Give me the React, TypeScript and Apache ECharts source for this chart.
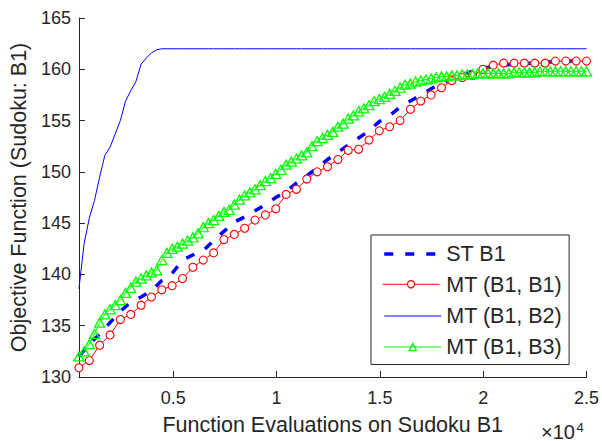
import React, { useEffect, useRef } from 'react';
import * as echarts from 'echarts';

// Function evaluations (x) — coarse sampling (ST B1, MT (B1, B1))
const evalsCoarse = [
  434, 935, 1437, 1938, 2439, 2941, 3442, 3943, 4445, 4946,
  5448, 5949, 6450, 6952, 7453, 7954, 8456, 8957, 9458, 9960,
  10461, 10962, 11464, 11965, 12466, 12968, 13469, 13970, 14472, 14973,
  15475, 15976, 16477, 16979, 17480, 17981, 18483, 18984, 19485, 19987,
  20488, 20989, 21491, 21992, 22493, 22995, 23496, 23997, 24499, 25000,
];

// Function evaluations (x) — fine sampling (MT (B1, B2), MT (B1, B3))
const evalsFine = [
  434, 685, 935, 1186, 1437, 1687, 1938, 2189, 2439, 2690,
  2941, 3191, 3442, 3693, 3943, 4194, 4445, 4695, 4946, 5197,
  5447, 5698, 5949, 6199, 6450, 6701, 6952, 7202, 7453, 7704,
  7954, 8205, 8456, 8706, 8957, 9208, 9458, 9709, 9960, 10210,
  10461, 10712, 10962, 11213, 11464, 11714, 11965, 12216, 12466, 12717,
  12968, 13218, 13469, 13720, 13970, 14221, 14472, 14722, 14973, 15224,
  15474, 15725, 15976, 16226, 16477, 16728, 16978, 17229, 17480, 17731,
  17981, 18232, 18483, 18733, 18984, 19235, 19485, 19736, 19987, 20237,
  20488, 20739, 20989, 21240, 21491, 21741, 21992, 22243, 22493, 22744,
  22995, 23245, 23496, 23747, 23997, 24248, 24499, 24749, 25000,
];

const stB1 = [
  132.0, 133.2, 134.2, 135.3, 136.4, 137.3, 137.8, 138.4, 139.4, 140.1,
  141.4, 141.9, 142.3, 143.3, 144.2, 145.1, 145.6, 146.2, 146.8, 147.5,
  148.1, 148.9, 149.6, 150.4, 151.2, 151.9, 152.6, 153.3, 154.0, 154.9,
  155.5, 156.3, 156.9, 157.5, 158.1, 158.6, 159.1, 159.5, 159.8, 160.1,
  160.3, 160.4, 160.5, 160.6, 160.6, 160.7, 160.7, 160.8, 160.8, 160.8,
];

const mtB1B1 = [
  130.9, 131.6, 133.1, 134.1, 135.6, 136.1, 137.0, 137.8, 138.5, 138.9,
  139.6, 140.7, 141.4, 142.1, 143.4, 143.9, 144.5, 145.3, 145.8, 146.4,
  147.8, 148.3, 149.3, 150.0, 150.5, 151.2, 152.1, 152.2, 153.1, 154.0,
  154.4, 155.0, 156.1, 156.9, 157.5, 158.2, 158.9, 159.2, 159.4, 160.0,
  160.4, 160.6, 160.6, 160.6, 160.6, 160.6, 160.8, 160.8, 160.8, 160.8,
];

const mtB1B2 = [
  138.6, 143.0, 145.5, 147.2, 149.5, 151.6, 152.4, 153.7, 155.0, 156.9,
  157.9, 158.8, 160.5, 161.1, 161.6, 161.9, 162.0, 162.0, 162.0, 162.0,
  162.0, 162.0, 162.0, 162.0, 162.0, 162.0, 162.0, 162.0, 162.0, 162.0,
  162.0, 162.0, 162.0, 162.0, 162.0, 162.0, 162.0, 162.0, 162.0, 162.0,
  162.0, 162.0, 162.0, 162.0, 162.0, 162.0, 162.0, 162.0, 162.0, 162.0,
  162.0, 162.0, 162.0, 162.0, 162.0, 162.0, 162.0, 162.0, 162.0, 162.0,
  162.0, 162.0, 162.0, 162.0, 162.0, 162.0, 162.0, 162.0, 162.0, 162.0,
  162.0, 162.0, 162.0, 162.0, 162.0, 162.0, 162.0, 162.0, 162.0, 162.0,
  162.0, 162.0, 162.0, 162.0, 162.0, 162.0, 162.0, 162.0, 162.0, 162.0,
  162.0, 162.0, 162.0, 162.0, 162.0, 162.0, 162.0, 162.0, 162.0,
];

const mtB1B3 = [
  132.0, 132.5, 133.2, 134.2, 135.3, 136.1, 136.6, 137.0, 137.5, 138.2,
  138.7, 139.3, 139.6, 139.9, 140.2, 140.4, 141.4, 142.1, 142.5, 142.7,
  143.0, 143.3, 143.6, 144.0, 144.6, 145.0, 145.3, 145.7, 146.1, 146.3,
  146.8, 147.3, 147.7, 148.0, 148.3, 148.7, 149.1, 149.4, 149.8, 150.2,
  150.7, 151.0, 151.3, 151.6, 151.9, 152.5, 153.0, 153.3, 153.6, 153.9,
  154.4, 154.7, 155.2, 155.5, 155.9, 156.2, 156.5, 156.9, 157.1, 157.3,
  157.6, 157.9, 158.2, 158.5, 158.6, 158.8, 158.9, 159.0, 159.1, 159.2,
  159.3, 159.3, 159.4, 159.4, 159.5, 159.5, 159.5, 159.6, 159.6, 159.6,
  159.6, 159.6, 159.6, 159.6, 159.7, 159.7, 159.7, 159.7, 159.7, 159.8,
  159.8, 159.8, 159.8, 159.8, 159.8, 159.8, 159.8, 159.8, 159.8,
];

const xTickValues = [5000, 10000, 15000, 20000, 25000];
const seriesNames = ['ST B1', 'MT (B1, B1)', 'MT (B1, B2)', 'MT (B1, B3)'];
const seriesColors = ['#0000ff', '#ff0000', '#0000ff', '#00ff00'];
const xTitle = 'Function Evaluations on Sudoku B1';
const yTitle = 'Objective Function (Sudoku: B1)';

const FONT = '"Liberation Sans", Arial, Helvetica, sans-serif';
const AX = '#262626';

// legend geometry (layout only)
const LEG_LEFT = 371;
const LEG_TOP = 235;
const LEG_PAD = [8, 7, 6.5, 11.5];
const LEG_ITEM_W = 57;
const LEG_ROW_H = 21.5;
const LEG_GAP = 9;

const pairs = (xs: number[], ys: number[]) => ys.map((y, i) => [xs[i], y]);

export default function App() {
  const ref = useRef<HTMLDivElement>(null);
  useEffect(() => {
    if (!ref.current) return;
    const chart = echarts.init(ref.current, undefined, { renderer: 'svg' });

    // red legend sample (drawn as graphic: line + hollow circle)
    const lx0 = LEG_LEFT + LEG_PAD[3];
    const lx1 = lx0 + LEG_ITEM_W;
    const lcx = (lx0 + lx1) / 2;
    const lcy = LEG_TOP + LEG_PAD[0] + LEG_ROW_H + LEG_GAP + LEG_ROW_H / 2;
    const r = 3.6;

    const option: any = {
      animation: false,
      backgroundColor: '#ffffff',
      textStyle: { fontFamily: FONT },
      grid: { left: 78, right: 15, top: 18, bottom: 59, containLabel: false },
      xAxis: {
        type: 'value',
        min: 434,
        max: 25000,
        name: xTitle,
        nameLocation: 'middle',
        nameGap: 37,
        nameTextStyle: { fontSize: 21.5, color: AX, fontFamily: FONT },
        axisLine: { show: true, onZero: false, lineStyle: { color: AX, width: 1 } },
        axisTick: { show: true, inside: true, length: 6, customValues: xTickValues, lineStyle: { color: AX } },
        axisLabel: {
          customValues: xTickValues,
          formatter: (v: number) => String(v / 10000),
          fontSize: 18,
          color: AX,
          fontFamily: FONT,
          margin: 12,
        },
        splitLine: { show: false },
      },
      yAxis: {
        type: 'value',
        min: 130,
        max: 165,
        interval: 5,
        name: yTitle,
        nameLocation: 'middle',
        nameGap: 47,
        nameTextStyle: { fontSize: 21.5, color: AX, fontFamily: FONT },
        axisLine: { show: true, onZero: false, lineStyle: { color: AX, width: 1 } },
        axisTick: { show: true, inside: true, length: 6, lineStyle: { color: AX } },
        axisLabel: { fontSize: 18, color: AX, fontFamily: FONT, margin: 8 },
        splitLine: { show: false },
      },
      legend: {
        orient: 'vertical',
        left: LEG_LEFT,
        top: LEG_TOP,
        itemWidth: LEG_ITEM_W,
        itemHeight: 9,
        itemGap: LEG_GAP,
        padding: LEG_PAD,
        borderColor: AX,
        borderWidth: 1,
        backgroundColor: '#ffffff',
        textStyle: { fontSize: 21.5, color: AX, fontFamily: FONT, lineHeight: LEG_ROW_H },
        data: [
          { name: seriesNames[0], itemStyle: { opacity: 0 }, lineStyle: { color: seriesColors[0], width: 3.5, type: [9, 12] } },
          { name: seriesNames[1], itemStyle: { opacity: 0 }, lineStyle: { width: 0, opacity: 0 } },
          { name: seriesNames[2], itemStyle: { opacity: 0 }, lineStyle: { color: seriesColors[2], width: 1 } },
          { name: seriesNames[3], itemStyle: { borderWidth: 1.3 }, lineStyle: { color: seriesColors[3], width: 1 } },
        ],
      },
      series: [
        {
          name: seriesNames[0],
          type: 'line',
          data: pairs(evalsCoarse, stB1),
          showSymbol: false,
          symbol: 'none',
          itemStyle: { color: seriesColors[0] },
          lineStyle: { color: seriesColors[0], width: 3.5, type: [9, 12] },
        },
        {
          name: seriesNames[1],
          type: 'line',
          data: pairs(evalsCoarse, mtB1B1),
          symbol: 'circle',
          symbolSize: 8,
          itemStyle: { color: '#ffffff', borderColor: seriesColors[1], borderWidth: 1.1 },
          lineStyle: { color: seriesColors[1], width: 1 },
        },
        {
          name: seriesNames[2],
          type: 'line',
          data: pairs(evalsFine, mtB1B2),
          symbol: 'none',
          itemStyle: { color: seriesColors[2] },
          lineStyle: { color: seriesColors[2], width: 1 },
        },
        {
          name: seriesNames[3],
          type: 'line',
          data: pairs(evalsFine, mtB1B3),
          symbol: 'triangle',
          symbolSize: [10, 9],
          itemStyle: { color: 'rgba(255,255,255,0)', borderColor: seriesColors[3], borderWidth: 1.3 },
          lineStyle: { color: seriesColors[3], width: 1 },
        },
      ],
      graphic: [
        {
          type: 'text',
          x: 541,
          y: 431.5,
          style: { text: '×10', fontSize: 20, fill: AX, fontFamily: FONT, verticalAlign: 'middle', align: 'left' },
        },
        {
          type: 'text',
          x: 576.5,
          y: 427,
          style: { text: '4', fontSize: 13, fill: AX, fontFamily: FONT, verticalAlign: 'middle', align: 'left' },
        },
        {
          type: 'group',
          z: 100,
          children: [
            {
              type: 'line',
              z: 100,
              shape: { x1: lx0, y1: lcy, x2: lx1, y2: lcy },
              style: { stroke: seriesColors[1], lineWidth: 1 },
            },
            {
              type: 'circle',
              z: 101,
              shape: { cx: lcx, cy: lcy, r },
              style: { fill: '#ffffff', stroke: seriesColors[1], lineWidth: 1.2 },
            },
          ],
        },
      ],
    };
    chart.setOption(option);
    return () => chart.dispose();
  }, []);
  return (
    <div
      ref={ref}
      style={{ position: 'fixed', left: 0, top: 0, width: 602, height: 441, background: '#fff' }}
    />
  );
}
